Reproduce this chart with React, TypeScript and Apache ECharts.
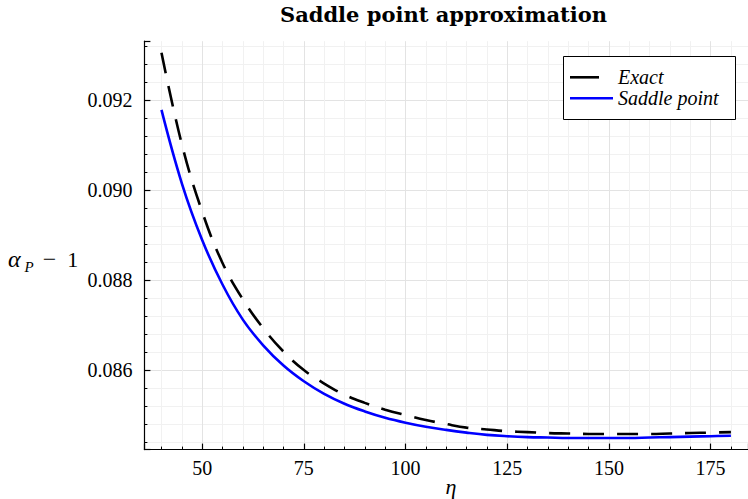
import React, { useEffect, useRef } from "react";
import * as echarts from "echarts";

// ---- data ----
const ETA = [40, 45, 50, 55, 60, 65, 70, 75, 80, 85, 90, 95, 100, 105, 110, 115, 120, 125, 130, 135, 140, 145, 150, 155, 160, 165, 170, 175, 180];
const EXACT = [0.09305, 0.09102, 0.08952, 0.08838, 0.08757, 0.08693, 0.08641, 0.086, 0.0857, 0.08545, 0.08527, 0.08512, 0.085, 0.08489, 0.0848, 0.08472, 0.08468, 0.08464, 0.08462, 0.0846, 0.08459, 0.08458, 0.08458, 0.08458, 0.08458, 0.08459, 0.0846, 0.08461, 0.08462];
const SADDLE = [0.09178, 0.09015, 0.08889, 0.0879, 0.08712, 0.08655, 0.0861, 0.08575, 0.08547, 0.08525, 0.08508, 0.08494, 0.08483, 0.08474, 0.08467, 0.08461, 0.08456, 0.08453, 0.08451, 0.0845, 0.08449, 0.08449, 0.08449, 0.08449, 0.0845, 0.08451, 0.08452, 0.08453, 0.08454];
const SERIES_NAMES = ["Exact", "Saddle point"];
const TITLE = "Saddle point approximation";
const X_MIN = 35.8;
const X_MAX = 184.2;
const Y_MIN = 0.084232;
const Y_MAX = 0.093307;
const X_STEP = 25;
const Y_STEP = 0.002;

const SERIF = "'Liberation Serif', 'Times New Roman', serif";

function isMultiple(v: number, step: number) {
  const r = v / step;
  return Math.abs(r - Math.round(r)) < 1e-6;
}

export default function App() {
  const ref = useRef<HTMLDivElement>(null);

  useEffect(() => {
    document.body.style.margin = "0";
    if (!ref.current) return;
    const chart = echarts.init(ref.current, null, { renderer: "svg" });

    const axisCommon = {
      type: "value",
      axisLine: { show: true, onZero: false, lineStyle: { color: "#000", width: 1.2 } },
      axisTick: { show: true, inside: true, length: 6, lineStyle: { color: "#000", width: 1.2 } },
      minorTick: { show: true, splitNumber: 5, length: 3, lineStyle: { color: "#000", width: 1 } },
      splitLine: { show: true, showMinLine: false, showMaxLine: false, lineStyle: { color: "#e3e3e3", width: 1 } },
      minorSplitLine: { show: true, lineStyle: { color: "#f1f1f1", width: 1 } },
    };

    const option: any = {
      animation: false,
      backgroundColor: "#fff",
      grid: { left: 144.4, right: -9, top: 41.2, bottom: 49.4, containLabel: false },
      xAxis: {
        ...axisCommon,
        min: X_MIN,
        max: X_MAX,
        minInterval: X_STEP,
        maxInterval: X_STEP,
        axisLabel: {
          showMinLabel: false,
          showMaxLabel: false,
          margin: 8,
          color: "#000",
          fontFamily: SERIF,
          fontSize: 20,
          formatter: (v: number) => (isMultiple(v, X_STEP) ? String(Math.round(v)) : ""),
        },
      },
      yAxis: {
        ...axisCommon,
        min: Y_MIN,
        max: Y_MAX,
        minInterval: Y_STEP,
        maxInterval: Y_STEP,
        axisLabel: {
          showMinLabel: false,
          showMaxLabel: false,
          margin: 12,
          color: "#000",
          fontFamily: SERIF,
          fontSize: 20,
          formatter: (v: number) => (isMultiple(v, Y_STEP) ? v.toFixed(3) : ""),
        },
      },
      series: [
        {
          name: SERIES_NAMES[0],
          type: "line",
          data: ETA.map((x, i) => [x, EXACT[i]]),
          showSymbol: false,
          symbol: "none",
          smooth: 0.4,
          lineStyle: { color: "#000", width: 2.6, type: [21, 13], cap: "butt" },
          z: 3,
        },
        {
          name: SERIES_NAMES[1],
          type: "line",
          data: ETA.map((x, i) => [x, SADDLE[i]]),
          showSymbol: false,
          symbol: "none",
          smooth: 0.4,
          lineStyle: { color: "#0000ff", width: 2.6 },
          z: 4,
        },
      ],
      graphic: [
        {
          type: "text",
          x: 443.5,
          y: 14,
          style: {
            text: TITLE,
            fontFamily: "'DejaVu Serif', serif",
            fontWeight: "bold",
            fontSize: 21,
            lineHeight: 24,
            fill: "#000",
            textAlign: "center",
            textVerticalAlign: "middle",
            align: "center",
            verticalAlign: "middle",
          },
        },
        {
          type: "text",
          x: 8,
          y: 259,
          style: {
            text: "{a|α}{p|P}{m|−}{o|1}",
            fill: "#000",
            textVerticalAlign: "middle",
            verticalAlign: "middle",
            rich: {
              a: { fontFamily: SERIF, fontStyle: "italic", fontSize: 24, lineHeight: 30, fill: "#000" },
              p: { fontFamily: SERIF, fontStyle: "italic", fontSize: 15, lineHeight: 10, verticalAlign: "bottom", padding: [0, 0, 0, 4], fill: "#000" },
              m: { fontFamily: SERIF, fontSize: 24, lineHeight: 30, padding: [0, 0, 0, 9], fill: "#000" },
              o: { fontFamily: SERIF, fontSize: 22, lineHeight: 30, padding: [0, 0, 0, 11], fill: "#000" },
            },
          },
        },
        {
          type: "text",
          x: 451,
          y: 486,
          style: {
            text: "η",
            fontFamily: SERIF,
            fontStyle: "italic",
            fontSize: 22,
            fill: "#000",
            textAlign: "center",
            textVerticalAlign: "middle",
            align: "center",
            verticalAlign: "middle",
          },
        },
        {
          type: "rect",
          z: 100,
          shape: { x: 563.5, y: 56.5, width: 172, height: 63 },
          style: { fill: "#fff", stroke: "#000", lineWidth: 1 },
        },
        {
          type: "line",
          z: 101,
          shape: { x1: 570, y1: 77.3, x2: 613, y2: 77.3 },
          style: { stroke: "#000", lineWidth: 2.6, lineDash: [29, 20] },
        },
        {
          type: "line",
          z: 101,
          shape: { x1: 570, y1: 98.3, x2: 613, y2: 98.3 },
          style: { stroke: "#0000ff", lineWidth: 2.6 },
        },
        {
          type: "text",
          z: 101,
          x: 618,
          y: 77,
          style: {
            text: SERIES_NAMES[0],
            fontFamily: SERIF,
            fontStyle: "italic",
            fontSize: 20,
            lineHeight: 19,
            fill: "#000",
            textVerticalAlign: "middle",
            verticalAlign: "middle",
          },
        },
        {
          type: "text",
          z: 101,
          x: 618,
          y: 97.5,
          style: {
            text: SERIES_NAMES[1],
            fontFamily: SERIF,
            fontStyle: "italic",
            fontSize: 20,
            lineHeight: 19,
            fill: "#000",
            textVerticalAlign: "middle",
            verticalAlign: "middle",
          },
        },
      ],
    };

    chart.setOption(option);
    return () => chart.dispose();
  }, []);

  return <div ref={ref} style={{ width: 748, height: 499 }} />;
}
